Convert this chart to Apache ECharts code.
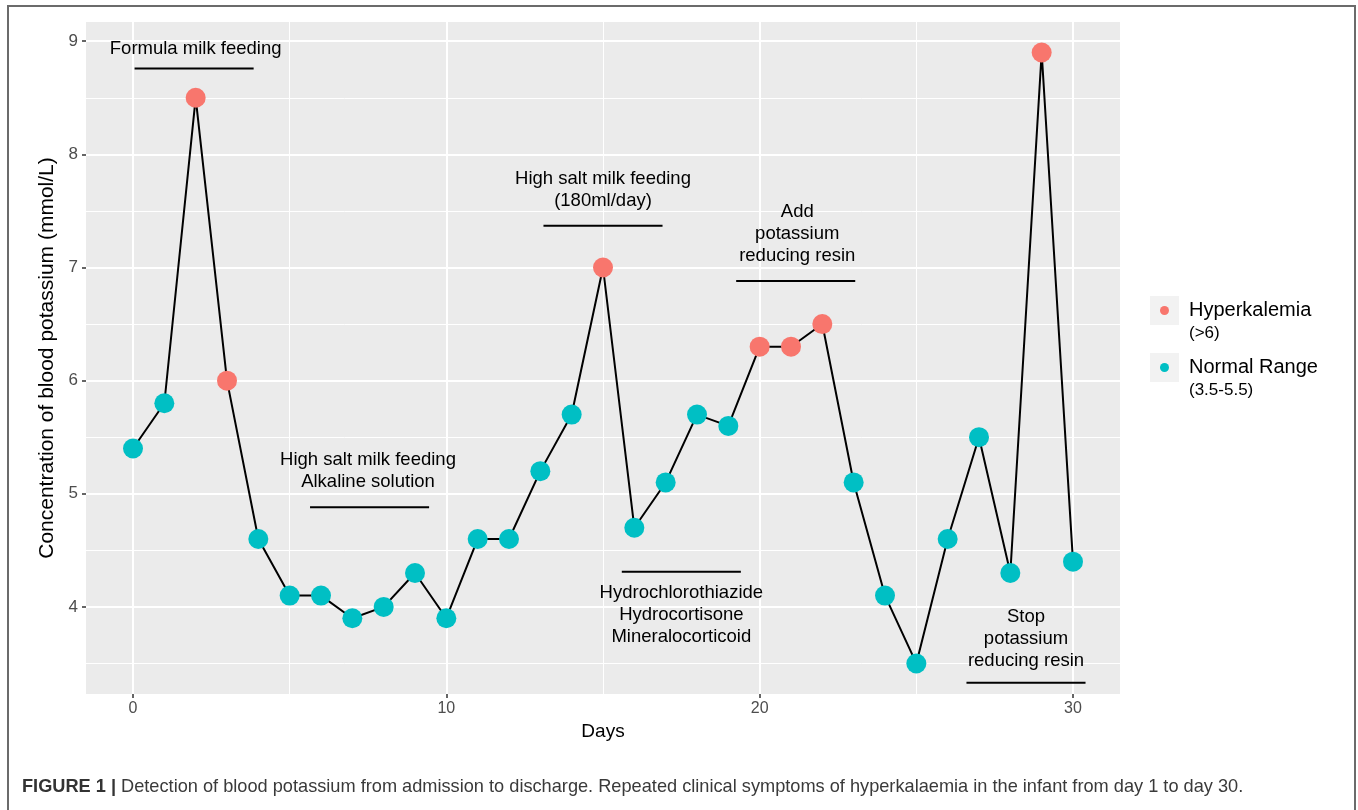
<!DOCTYPE html>
<html>
<head>
<meta charset="utf-8">
<script src="https://cdn.jsdelivr.net/npm/echarts@6/dist/echarts.min.js"></script>
<style>
  html, body { margin: 0; padding: 0; background: #ffffff; }
  #chart { width: 1358px; height: 810px; }
</style>
</head>
<body>
<div id="chart"></div>
<script>
// Daily blood potassium (mmol/L), day 0 to day 30
const days = [0, 1, 2, 3, 4, 5, 6, 7, 8, 9, 10, 11, 12, 13, 14, 15, 16, 17, 18, 19, 20, 21, 22, 23, 24, 25, 26, 27, 28, 29, 30];
const potassium = [5.4, 5.8, 8.5, 6.0, 4.6, 4.1, 4.1, 3.9, 4.0, 4.3, 3.9, 4.6, 4.6, 5.2, 5.7, 7.0, 4.7, 5.1, 5.7, 5.6, 6.3, 6.3, 6.5, 5.1, 4.1, 3.5, 4.6, 5.5, 4.3, 8.9, 4.4];
// H = hyperkalemia, N = normal range
const status = ['N', 'N', 'H', 'H', 'N', 'N', 'N', 'N', 'N', 'N', 'N', 'N', 'N', 'N', 'N', 'H', 'N', 'N', 'N', 'N', 'H', 'H', 'H', 'N', 'N', 'N', 'N', 'N', 'N', 'H', 'N'];

const groupKeys = ['H', 'N'];
const groupNames = ['Hyperkalemia', 'Normal Range'];
const groupRanges = ['(>6)', '(3.5-5.5)'];
const groupColors = ['#F8766D', '#00BFC4'];

// Treatment annotations: label, label centre (day, mmol/L), bar from/to day and bar level
const annoText = [
  'Formula milk feeding',
  'High salt milk feeding\nAlkaline solution',
  'High salt milk feeding\n(180ml/day)',
  'Add\npotassium\nreducing resin',
  'Hydrochlorothiazide\nHydrocortisone\nMineralocorticoid',
  'Stop\npotassium\nreducing resin'
];
const annoTextX = [2.0, 7.5, 15.0, 21.2, 17.5, 28.5];
const annoTextY = [8.93, 5.20, 7.69, 7.30, 3.93, 3.72];
const annoFrom = [0.05, 5.65, 13.1, 19.25, 15.6, 26.6];
const annoTo = [3.85, 9.45, 16.9, 23.05, 19.4, 30.4];
const annoBarY = [8.76, 4.88, 7.37, 6.88, 4.31, 3.33];

const xLimits = [-1.5, 31.5];
const yLimits = [3.23, 9.17];
const yTickValues = [4, 5, 6, 7, 8, 9];
const xTickValues = [0, 10, 20, 30];

const FONT = '"Liberation Sans", Arial, Helvetica, sans-serif';

const linePoints = days.map((d, i) => [d, potassium[i]]);
const groupSeries = groupKeys.map((k, g) => ({
  name: groupNames[g],
  type: 'scatter',
  symbol: 'circle',
  symbolSize: 20,
  z: 5,
  itemStyle: { color: groupColors[g], opacity: 1 },
  data: days.map((d, i) => [d, potassium[i], status[i]]).filter(p => p[2] === k).map(p => [p[0], p[1]])
}));

const annoData = annoText.map((t, i) => [annoTextX[i], annoTextY[i], annoFrom[i], annoTo[i], annoBarY[i]]);

// Legend keys drawn beside the plot
const legendGraphics = [];
groupNames.forEach((name, g) => {
  const top = 296 + g * 57;
  legendGraphics.push(
    { type: 'rect', shape: { x: 1150, y: top, width: 29, height: 29 }, style: { fill: '#F2F2F2' } },
    { type: 'circle', shape: { cx: 1164.5, cy: top + 14.5, r: 4.5 }, style: { fill: groupColors[g] } },
    { type: 'text', x: 1189, y: top + 14, style: { text: name, fill: '#000', font: '20px ' + FONT, verticalAlign: 'middle' } },
    { type: 'text', x: 1189, y: top + 37, style: { text: groupRanges[g], fill: '#000', font: '17px ' + FONT, verticalAlign: 'middle' } }
  );
});

const chart = echarts.init(document.getElementById('chart'), null, { renderer: 'canvas' });
chart.setOption({
  animation: false,
  backgroundColor: '#ffffff',
  textStyle: { fontFamily: FONT },
  grid: {
    left: 86, right: 238, top: 22, bottom: 116,
    show: true, backgroundColor: '#EBEBEB', borderWidth: 0, borderColor: 'transparent'
  },
  xAxis: {
    type: 'value',
    min: xLimits[0], max: xLimits[1],
    splitNumber: 3,
    name: 'Days',
    nameLocation: 'middle',
    nameGap: 24,
    nameTextStyle: { color: '#000', fontSize: 19, fontFamily: FONT },
    axisLine: { show: false, onZero: false },
    axisTick: { show: true, length: 4, lineStyle: { color: '#333', width: 1.5 }, customValues: xTickValues },
    axisLabel: { color: '#4D4D4D', fontSize: 16, margin: 7, customValues: xTickValues, fontFamily: FONT },
    splitLine: { show: true, lineStyle: { color: '#ffffff', width: 2 } },
    minorTick: { show: false, splitNumber: 2 },
    minorSplitLine: { show: true, lineStyle: { color: '#ffffff', width: 1 } }
  },
  yAxis: {
    type: 'value',
    min: yLimits[0], max: yLimits[1],
    splitNumber: 6,
    name: 'Concentration of blood potassium (mmol/L)',
    nameLocation: 'middle',
    nameGap: 21,
    nameTextStyle: { color: '#000', fontSize: 21, fontFamily: FONT },
    axisLine: { show: false, onZero: false },
    axisTick: { show: true, length: 4, lineStyle: { color: '#333', width: 1.5 }, customValues: yTickValues },
    axisLabel: { color: '#4D4D4D', fontSize: 17, margin: 8, customValues: yTickValues, fontFamily: FONT },
    splitLine: { show: true, lineStyle: { color: '#ffffff', width: 2 } },
    minorTick: { show: false, splitNumber: 2 },
    minorSplitLine: { show: true, lineStyle: { color: '#ffffff', width: 1 } }
  },
  series: [
    {
      name: 'trend',
      type: 'line',
      data: linePoints,
      showSymbol: false,
      symbol: 'none',
      z: 3,
      lineStyle: { color: '#000', width: 2 }
    },
    ...groupSeries,
    {
      name: 'annotations',
      type: 'custom',
      clip: false,
      z: 4,
      data: annoData,
      renderItem(params, api) {
        const i = params.dataIndex;
        const a = api.coord([api.value(2), api.value(4)]);
        const b = api.coord([api.value(3), api.value(4)]);
        const t = api.coord([api.value(0), api.value(1)]);
        return {
          type: 'group',
          children: [
            { type: 'line', shape: { x1: a[0], y1: a[1], x2: b[0], y2: b[1] }, style: { stroke: '#000', lineWidth: 2 } },
            { type: 'text', x: t[0], y: t[1], style: { text: annoText[i], fill: '#000', font: '18.5px ' + FONT, align: 'center', verticalAlign: 'middle', lineHeight: 22 } }
          ]
        };
      }
    }
  ],
  graphic: [
    { type: 'rect', z: 100, shape: { x: 8, y: 6, width: 1347, height: 830 }, style: { fill: 'none', stroke: '#6b6b6b', lineWidth: 2 } },
    ...legendGraphics,
    {
      type: 'text', x: 22, y: 787,
      style: {
        text: '{b|FIGURE 1 |} Detection of blood potassium from admission to discharge. Repeated clinical symptoms of hyperkalaemia in the infant from day 1 to day 30.',
        verticalAlign: 'middle',
        rich: {
          b: { font: 'bold 18.2px ' + FONT, fill: '#333' }
        },
        font: '18.2px ' + FONT,
        fill: '#3a3a3a'
      }
    }
  ]
});
</script>
</body>
</html>
